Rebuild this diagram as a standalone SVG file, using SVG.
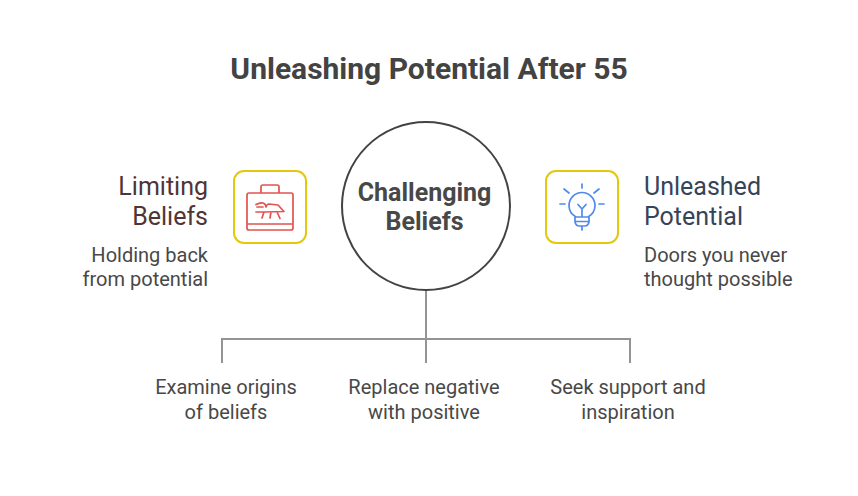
<svg xmlns="http://www.w3.org/2000/svg" width="858" height="496" viewBox="0 0 858 496">
<style>
text{font-family:Roboto,"Liberation Sans",sans-serif;}
.title{font-size:30px;font-weight:700;fill:#434343;text-anchor:middle}
.head{font-size:25px}
.body{font-size:20px;fill:#484848}
.c{text-anchor:middle}
.e{text-anchor:end}
.box{fill:#fff;stroke:#e4c80f;stroke-width:2}
.conn{fill:none;stroke:#949494;stroke-width:2}
.red{fill:none;stroke:#e2534f;stroke-width:1.7;stroke-linecap:round;stroke-linejoin:round}
.blue{fill:none;stroke:#4f8ae8;stroke-width:1.7;stroke-linecap:round;stroke-linejoin:round}
</style>
<rect width="858" height="496" fill="#fff"/>
<text class="title" x="429" y="79">Unleashing Potential After 55</text>
<g id="connectors">
<path class="conn" d="M426 291V363M222 363V339H630V363"/>
</g>
<g id="center">
<circle cx="426" cy="206" r="84" fill="#fff" stroke="#434343" stroke-width="2"/>
<text class="c" x="424.500" y="200.500" font-size="25" font-weight="700" fill="#484848">Challenging</text>
<text class="c" x="424.500" y="229.500" font-size="25" font-weight="700" fill="#484848">Beliefs</text>
</g>
<g id="limiting">
<rect class="box" x="234" y="171" width="72" height="72" rx="10"/>
<path class="red" d="M249 193H291Q293 193 293 195V228Q293 230 291 230H249Q247 230 247 228V195Q247 193 249 193ZM247 224H293M261 193V187Q261 185 263 185H277Q279 185 279 187V193"/>
<path class="red" d="M256 204.500Q260 202.500 263 203Q266 204 266 207Q267 204 269 204L278 205L284 211.500L265 212H256M263 207H257M264 212L262 218M271 212L270 218M277 212L280 218.500"/>
<text class="head e" x="208" y="194.500" fill="#4f3535">Limiting</text>
<text class="head e" x="208" y="224.500" fill="#4f3535">Beliefs</text>
<text class="body e" x="208" y="261.500">Holding back</text>
<text class="body e" x="208" y="285.500">from potential</text>
</g>
<g id="unleashed">
<rect class="box" x="546" y="171" width="72" height="72" rx="10"/>
<path class="blue" d="M576 217Q569 213 569 205.500A13 13 0 0 1 595 205.500Q595 213 588 217ZM575 217V222Q576 226 579 226H585Q588 226 589 222V217M575 221.500H589M582 226V230M582 217V209M578 204.500L582 209L586 204.500M582 184V188M564 189L569 193M599 189L594 193M560 204H565M599 204H604"/>
<text class="head" x="644" y="194.500" fill="#36445a">Unleashed</text>
<text class="head" x="644" y="224.500" fill="#36445a">Potential</text>
<text class="body" x="644" y="261.500">Doors you never</text>
<text class="body" x="644" y="285.500">thought possible</text>
</g>
<g id="examine">
<text class="body c" x="226" y="393.500">Examine origins</text>
<text class="body c" x="226" y="418.500">of beliefs</text>
</g>
<g id="replace">
<text class="body c" x="424" y="393.500">Replace negative</text>
<text class="body c" x="424" y="418.500">with positive</text>
</g>
<g id="seek">
<text class="body c" x="628" y="393.500">Seek support and</text>
<text class="body c" x="628" y="418.500">inspiration</text>
</g>
</svg>
